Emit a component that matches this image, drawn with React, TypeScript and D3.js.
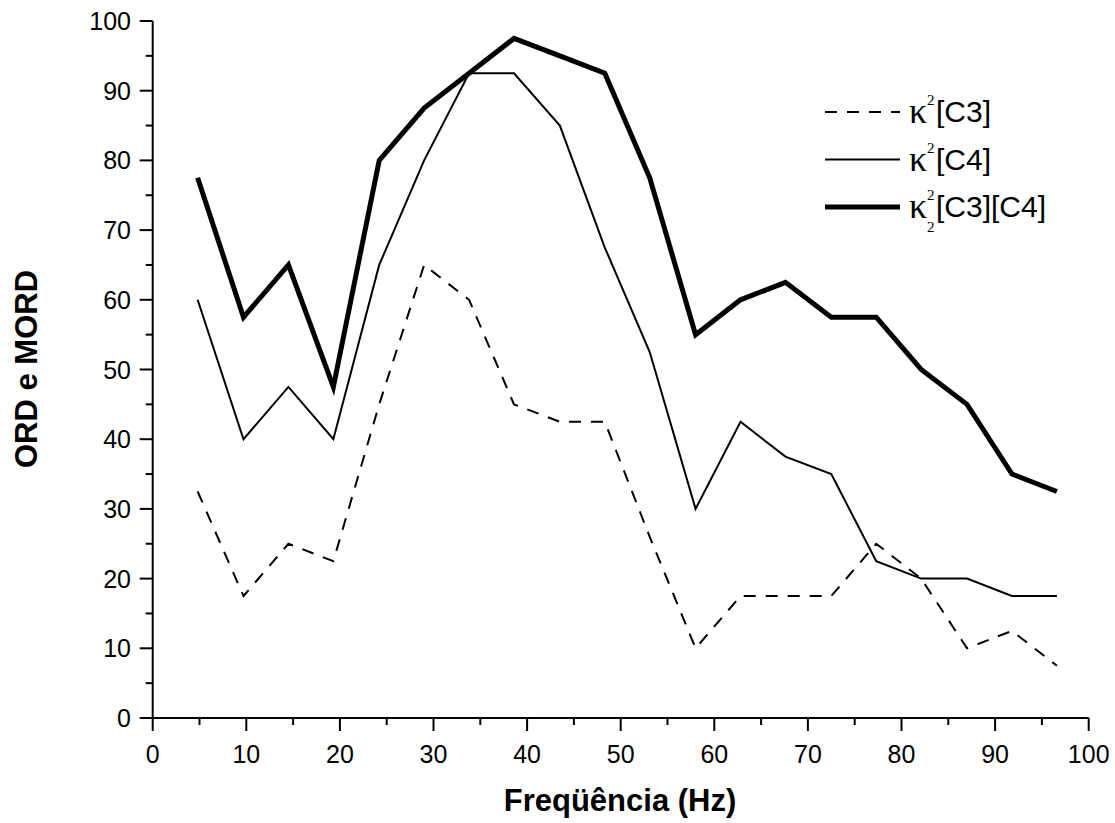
import React from "react";
import * as d3 from "d3";

const freqs = [4.8, 9.7, 14.5, 19.3, 24.2, 29.0, 33.8, 38.6, 43.5, 48.3, 53.1, 58.0, 62.8, 67.6, 72.5, 77.3, 82.1, 87.0, 91.8, 96.6];
const c3 = [32.5, 17.5, 25, 22.5, 45, 65, 60, 45, 42.5, 42.5, 26, 10, 17.5, 17.5, 17.5, 25, 20, 10, 12.5, 7.5];
const c4 = [60, 40, 47.5, 40, 65, 80, 92.5, 92.5, 85, 67.5, 52.5, 30, 42.5, 37.5, 35, 22.5, 20, 20, 17.5, 17.5];
const c3c4 = [77.5, 57.5, 65, 47.5, 80, 87.5, 92.5, 97.5, 95, 92.5, 77.5, 55, 60, 62.5, 57.5, 57.5, 50, 45, 35, 32.5];
const xTicks = [0, 10, 20, 30, 40, 50, 60, 70, 80, 90, 100];
const yTicks = [0, 10, 20, 30, 40, 50, 60, 70, 80, 90, 100];
const legendLabels = ["[C3]", "[C4]", "[C3][C4]"];

const W = 1115, H = 823;
const x = d3.scaleLinear().domain([0, 100]).range([152.7, 1088.7]);
const y = d3.scaleLinear().domain([0, 100]).range([718, 21]);

const series = [
  { name: "C3", values: c3, width: 2, dash: "12,10" },
  { name: "C4", values: c4, width: 2, dash: "" },
  { name: "C3C4", values: c3c4, width: 5, dash: "" },
];

const minorX = d3.range(5, 100, 10);
const minorY = d3.range(5, 100, 10);

export default function App() {
  const line = d3.line<number>().x((_, i) => x(freqs[i])).y((v) => y(v));
  const font = "Arial, 'Liberation Sans', sans-serif";
  const serif = "'Times New Roman', 'Liberation Serif', serif";
  return (
    <svg width={W} height={H} style={{ position: "absolute", left: 0, top: 0, background: "#fff" }}>
      <rect width={W} height={H} fill="#fff" />
      <g stroke="#000" strokeWidth={2}>
        <line x1={x(0)} x2={x(100)} y1={y(0)} y2={y(0)} />
        <line x1={x(0)} x2={x(0)} y1={y(0)} y2={y(100)} />
        {xTicks.map((t) => (
          <line key={"xt" + t} x1={x(t)} x2={x(t)} y1={y(0)} y2={y(0) + 13} />
        ))}
        {minorX.map((t) => (
          <line key={"xm" + t} x1={x(t)} x2={x(t)} y1={y(0)} y2={y(0) + 7} />
        ))}
        {yTicks.map((t) => (
          <line key={"yt" + t} x1={x(0) - 13} x2={x(0)} y1={y(t)} y2={y(t)} />
        ))}
        {minorY.map((t) => (
          <line key={"ym" + t} x1={x(0) - 7} x2={x(0)} y1={y(t)} y2={y(t)} />
        ))}
      </g>
      <g fontFamily={font} fontSize={25} fill="#000">
        {xTicks.map((t) => (
          <text key={"xl" + t} x={x(t)} y={763} textAnchor="middle">{t}</text>
        ))}
        {yTicks.map((t) => (
          <text key={"yl" + t} x={131} y={y(t)} textAnchor="end" dominantBaseline="central">{t}</text>
        ))}
      </g>
      <text x={620} y={811} textAnchor="middle" fontFamily={font} fontWeight="bold" fontSize={31}>Freqüência (Hz)</text>
      <text transform="translate(26,369) rotate(-90)" textAnchor="middle" dominantBaseline="central" fontFamily={font} fontWeight="bold" fontSize={31}>ORD e MORD</text>
      {series.map((s) => (
        <path key={s.name} d={line(s.values) || ""} fill="none" stroke="#000" strokeWidth={s.width}
          strokeDasharray={s.dash || undefined} strokeLinejoin="miter" />
      ))}
      <g>
        {series.map((s, i) => {
          const ly = 112 + i * 47.5;
          return (
            <g key={"lg" + s.name}>
              <line x1={825} x2={900} y1={ly} y2={ly} stroke="#000" strokeWidth={s.width} strokeDasharray={s.dash || undefined} />
              <text x={909} y={ly + 11} fontFamily={serif} fontSize={36}>κ</text>
              <text x={927} y={ly - 7} fontFamily={serif} fontSize={15}>2</text>
              {i === 2 ? <text x={927} y={ly + 25} fontFamily={serif} fontSize={15}>2</text> : null}
              <text x={936} y={ly + 10} fontFamily={font} fontSize={30}>{legendLabels[i]}</text>
            </g>
          );
        })}
      </g>
    </svg>
  );
}
